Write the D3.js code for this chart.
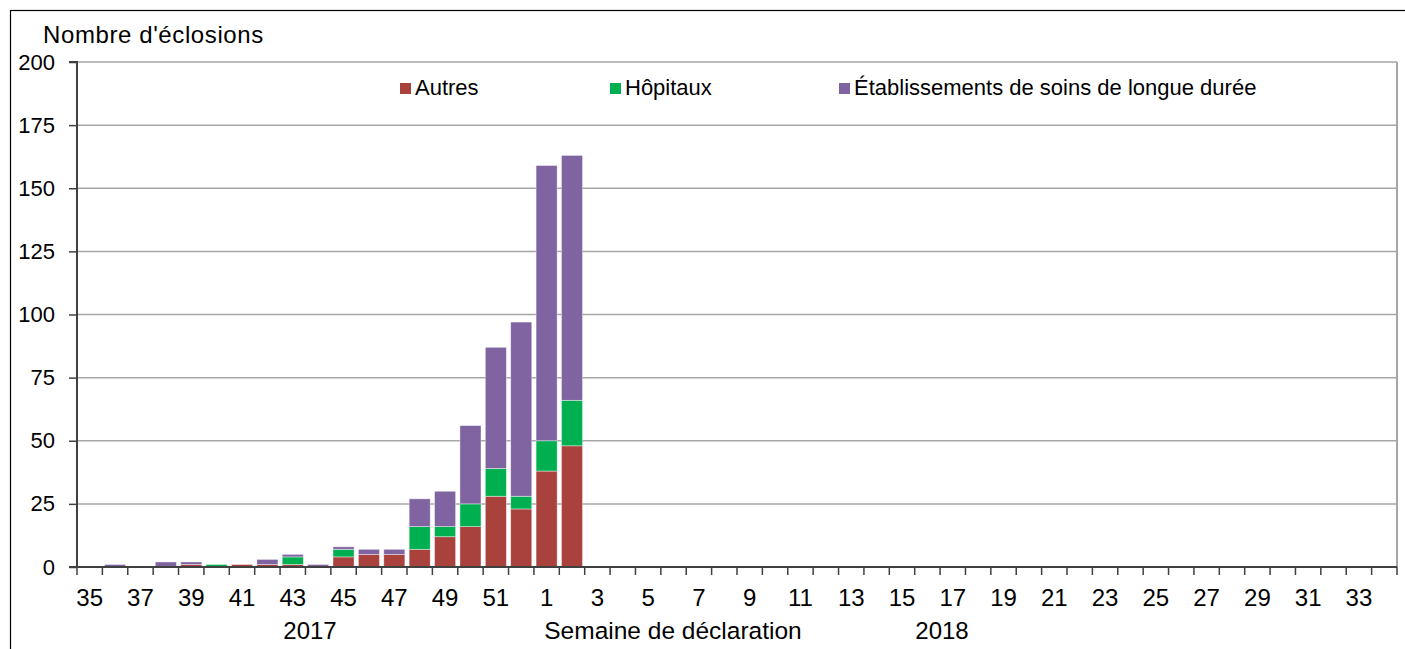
<!DOCTYPE html>
<html><head><meta charset="utf-8">
<script src="https://cdn.jsdelivr.net/npm/d3@7"></script>
<style>
body{margin:0;background:#fff;}
svg text{font-family:"Liberation Sans",Arial,sans-serif;fill:#000;}
</style></head>
<body><svg id="c" width="1405" height="649"></svg>
<script>
const weeks = ["35","36","37","38","39","40","41","42","43","44","45","46","47","48","49","50","51","52",
  "1","2","3","4","5","6","7","8","9","10","11","12","13","14","15","16","17","18","19","20","21","22","23","24","25","26","27","28","29","30","31","32","33","34"];
const dataWeeks = ["35","36","37","38","39","40","41","42","43","44","45","46","47","48","49","50","51","52","1","2"];
const autres   = [0,0,0,0,1,0,1,1,1,0,4,5,5,7,12,16,28,23,38,48];
const hopitaux = [0,0,0,0,0,1,0,0,3,0,3,0,0,9,4,9,11,5,12,18];
const etab     = [0,1,0,2,1,0,0,2,1,1,1,2,2,11,14,31,48,69,109,97];
const seriesNames = ["Autres","Hôpitaux","Établissements de soins de longue durée"];
const colors = ["#A9413C","#00B050","#8064A2"];
const yTicks = [0,25,50,75,100,125,150,175,200];

const svg = d3.select("#c");
// outer frame
svg.append("rect").attr("x",10.5).attr("y",10.5).attr("width",1410).attr("height",700)
  .attr("fill","none").attr("stroke","#000").attr("stroke-width",1.2);

const L=77, T=62, R=1397, B=567;
const x = d3.scaleBand().domain(weeks).range([L,R]).paddingInner(0.17).paddingOuter(0.085);
const xb = d3.scaleBand().domain(weeks).range([L,R]);
const y = d3.scaleLinear().domain([0,200]).range([B,T]);

// gridlines
svg.append("g").selectAll("line").data(yTicks.filter(d=>d>0)).join("line")
  .attr("x1",L).attr("x2",R).attr("y1",d=>y(d)).attr("y2",d=>y(d))
  .attr("stroke","#A6A6A6").attr("stroke-width",1.5);
// right border
svg.append("line").attr("x1",R).attr("x2",R).attr("y1",T).attr("y2",B)
  .attr("stroke","#A6A6A6").attr("stroke-width",2);

// stacked bars
const rows = dataWeeks.map((w,i)=>({week:w, a:autres[i], h:hopitaux[i], e:etab[i]}));
const stack = d3.stack().keys(["a","h","e"])(rows);
svg.append("g").selectAll("g").data(stack).join("g").attr("fill",(d,i)=>colors[i])
  .selectAll("rect").data(d=>d.filter(s=>s[1]-s[0]>0)).join("rect")
  .attr("x",d=>x(d.data.week)).attr("width",x.bandwidth())
  .attr("y",d=>y(d[1])).attr("height",d=>y(d[0])-y(d[1]))
  .attr("stroke","#fff").attr("stroke-opacity",0.5).attr("stroke-width",0.8);

// y axis
const ya = svg.append("g").attr("transform",`translate(${L},0)`)
  .call(d3.axisLeft(y).tickValues(yTicks).tickSize(8).tickPadding(14));
ya.select(".domain").attr("stroke","#404040").attr("stroke-width",2).attr("d",`M-8,${T}H0V${B}`);
ya.selectAll(".tick line").attr("stroke","#404040").attr("stroke-width",1.5);
ya.selectAll(".tick text").attr("font-size",22).attr("font-family","Liberation Sans, Arial");

// x axis: ticks at band boundaries
const xa = svg.append("g");
xa.append("line").attr("x1",L-8).attr("x2",R).attr("y1",B).attr("y2",B)
  .attr("stroke","#404040").attr("stroke-width",2);
const bounds = weeks.map(w=>xb(w)).concat([R]);
xa.selectAll(".t").data(bounds).join("line").attr("class","t")
  .attr("x1",d=>d).attr("x2",d=>d).attr("y1",B).attr("y2",B+8)
  .attr("stroke","#404040").attr("stroke-width",1.5);
xa.selectAll("text").data(weeks.filter((w,i)=>i%2===0)).join("text")
  .attr("x",d=>xb(d)+xb.bandwidth()/2).attr("y",606)
  .attr("text-anchor","middle").attr("font-size",24).text(d=>d);

// bottom labels
svg.append("text").attr("x",310).attr("y",639).attr("text-anchor","middle").attr("font-size",24).text("2017");
svg.append("text").attr("x",673).attr("y",639).attr("text-anchor","middle").attr("font-size",24.5).text("Semaine de déclaration");
svg.append("text").attr("x",942).attr("y",639).attr("text-anchor","middle").attr("font-size",24).text("2018");

// y title
svg.append("text").attr("x",43).attr("y",43).attr("font-size",24).attr("letter-spacing",0.6).text("Nombre d'éclosions");

// legend
const legX = [400,610,839];
const lg = svg.append("g").selectAll("g").data(seriesNames).join("g")
  .attr("transform",(d,i)=>`translate(${legX[i]},0)`);
lg.append("rect").attr("x",0).attr("y",83).attr("width",11).attr("height",11).attr("fill",(d,i)=>colors[i]);
lg.append("text").attr("x",15).attr("y",95).attr("font-size",22).text(d=>d);
</script></body></html>
